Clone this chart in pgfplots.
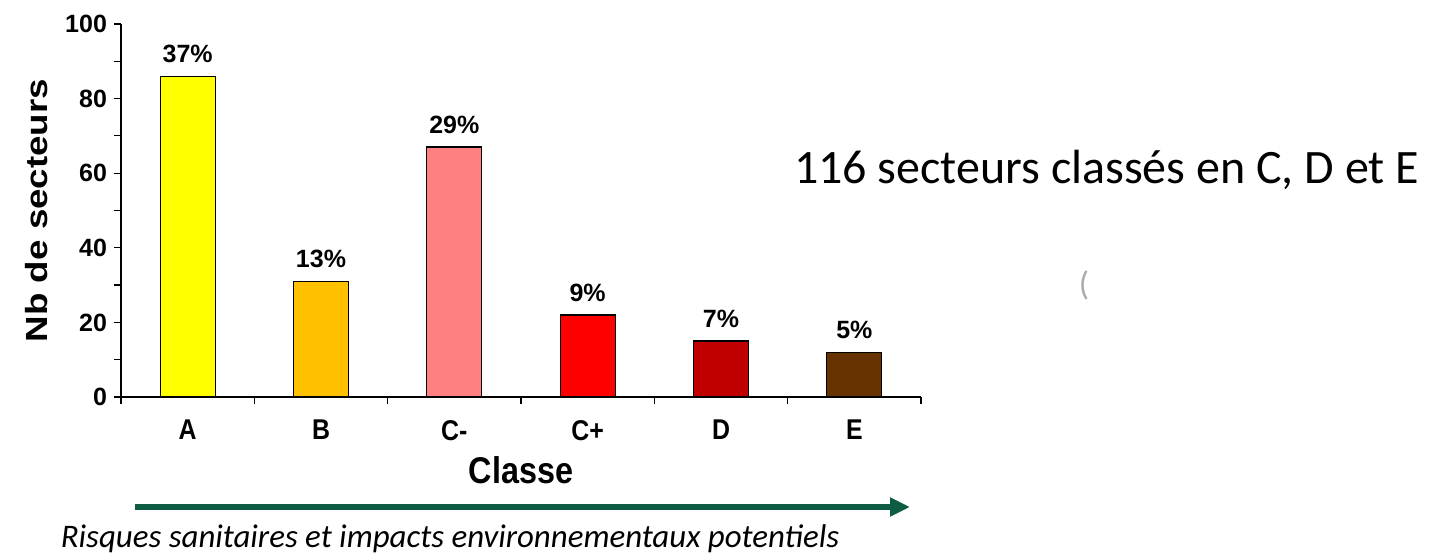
\documentclass[border=0pt]{standalone}
\usepackage{pgfplots}
\pgfplotsset{compat=1.18}
\usetikzlibrary{arrows.meta}
\usepackage{fontspec}
\setmainfont{Liberation Sans}
\newfontfamily\carlito{Carlito}
\newfontfamily\tallsans[FakeStretch=0.87]{Liberation Sans}
\newfontfamily\longsans[FakeStretch=1.2]{Liberation Sans}
\definecolor{cA}{HTML}{FFFF00}
\definecolor{cB}{HTML}{FFC000}
\definecolor{cCm}{HTML}{FF8080}
\definecolor{cCp}{HTML}{FF0000}
\definecolor{cD}{HTML}{C00000}
\definecolor{cE}{HTML}{663300}
\definecolor{arrowgreen}{HTML}{0E5C44}
\begin{document}
\begin{tikzpicture}
\path[use as bounding box] (0pt,0pt) rectangle (717pt,278.5pt);
\begin{axis}[
  at={(60.5pt,80pt)}, anchor=south west,
  scale only axis, width=400pt, height=186.5pt,
  xmin=0.5, xmax=6.5, ymin=0, ymax=100,
  axis lines=left, axis line style={-, black, line width=0.6pt},
  ybar, bar width=27.5pt, bar shift=0pt,
  xtick={1,...,6}, xticklabels={A,B,C-,C+,D,E},
  minor xtick={0.5,1.5,...,6.5},
  ytick={0,20,...,100}, minor ytick={10,30,...,90},
  tick align=outside,
  major tick length=3.5pt, minor tick length=3.5pt,
  tick style={black, line width=0.6pt},
  major x tick style={draw=none},
  ticklabel style={font=\fontsize{12.5}{14}\selectfont\bfseries},
  /pgf/number format/assume math mode=true,
  xticklabel style={yshift=-4.5pt, font=\tallsans\fontsize{14.3}{16}\selectfont\bfseries},
  ylabel={Nb de secteurs},
  ylabel style={at={(axis description cs:-0.105,0.5)}, anchor=center, rotate=0, font=\longsans\fontsize{15.3}{17}\selectfont\bfseries},
  xlabel={Classe},
  xlabel style={at={(axis description cs:0.5,-0.196)}, anchor=center, font=\tallsans\fontsize{18.6}{20}\selectfont\bfseries},
  point meta=explicit,
  nodes near coords={\pgfmathprintnumber{\pgfplotspointmeta}\%},
  nodes near coords style={font=\fontsize{12.5}{14}\selectfont\bfseries, black, yshift=3pt},
  every axis plot/.append style={draw=black, line width=0.6pt},
]
\addplot[fill=cA] coordinates {(1,86) [37]};
\addplot[fill=cB] coordinates {(2,31) [13]};
\addplot[fill=cCm] coordinates {(3,67) [29]};
\addplot[fill=cCp] coordinates {(4,22) [9]};
\addplot[fill=cD] coordinates {(5,15) [7]};
\addplot[fill=cE] coordinates {(6,12) [5]};
\end{axis}
\draw[arrowgreen, line width=3pt, -{Triangle[length=10pt,width=9pt]}] (67.5pt,25pt) -- (455pt,25pt);
\node[anchor=center, font=\carlito\itshape\fontsize{16.45}{19}\selectfont] at (225pt,9pt) {Risques sanitaires et impacts environnementaux potentiels};
\node[anchor=west, font=\carlito\fontsize{24}{28}\selectfont] at (393.5pt,193.5pt) {116 secteurs classés en C, D et E};
\node[font=\carlito\fontsize{17}{18}\selectfont, text=gray!65] at (542pt,136pt) {(};
\end{tikzpicture}
\end{document}
